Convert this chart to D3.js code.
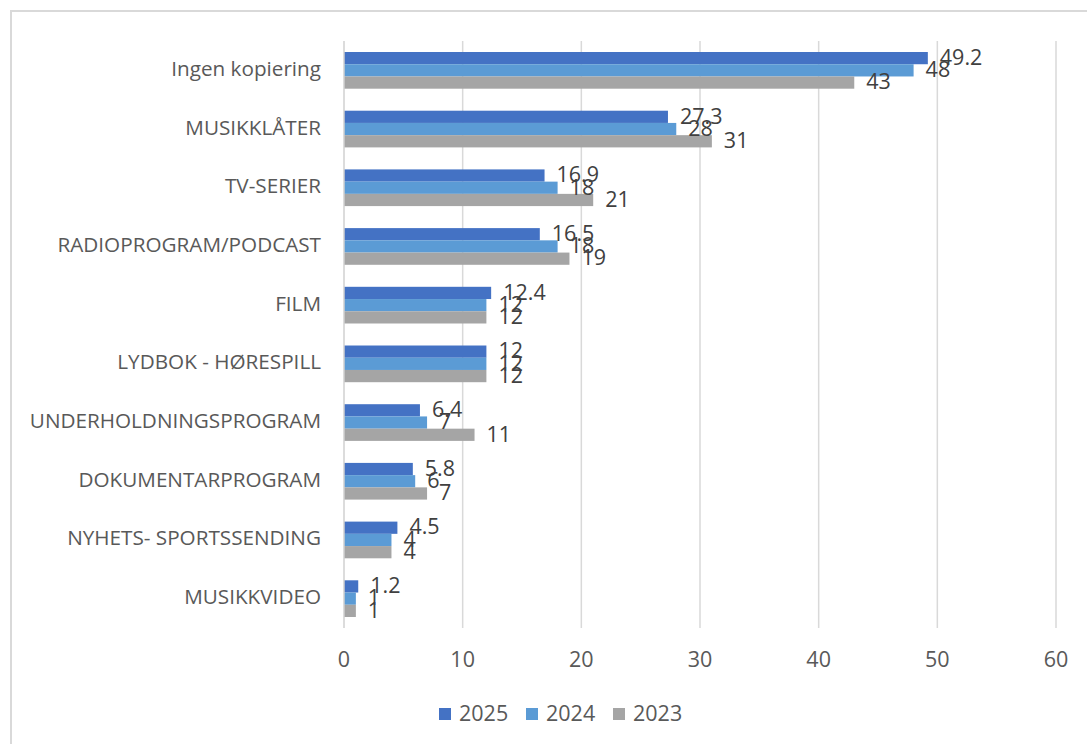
<!DOCTYPE html>
<html>
<head>
<meta charset="utf-8">
<script src="https://cdn.jsdelivr.net/npm/d3@7"></script>
<style>
  body { margin: 0; background: #fff; }
  svg text { font-family: "Open Sans", "Noto Sans", sans-serif; }
</style>
</head>
<body>
<div id="chart"></div>
<script>
// categories, top to bottom
const categories = ["Ingen kopiering", "MUSIKKLÅTER", "TV-SERIER", "RADIOPROGRAM/PODCAST", "FILM",
    "LYDBOK - HØRESPILL", "UNDERHOLDNINGSPROGRAM", "DOKUMENTARPROGRAM", "NYHETS- SPORTSSENDING", "MUSIKKVIDEO"];
const seriesNames = ["2025", "2024", "2023"];
const values2025 = [49.2, 27.3, 16.9, 16.5, 12.4, 12, 6.4, 5.8, 4.5, 1.2];
const values2024 = [48, 28, 18, 18, 12, 12, 7, 6, 4, 1];
const values2023 = [43, 31, 21, 19, 12, 12, 11, 7, 4, 1];
const xTicks = [0, 10, 20, 30, 40, 50, 60];
const colors = ["#4472C4", "#5B9BD5", "#A5A5A5"];

const seriesValues = [values2025, values2024, values2023];

let width = 1087, height = 744,
    margin = {top: 41, left: 344, right: 31, bottom: 116};

let svg = d3.select("#chart").append("svg")
    .attr("width", width)
    .attr("height", height);

// chart border
svg.append("rect")
    .attr("x", 11).attr("y", 11)
    .attr("width", 1100).attr("height", 760)
    .attr("fill", "none")
    .attr("stroke", "#d9d9d9")
    .attr("stroke-width", 2);

let x = d3.scaleLinear().domain([0, 60]).range([margin.left, width - margin.right]);
let y = d3.scaleBand().domain(categories)
    .range([margin.top, height - margin.bottom])
    .paddingInner(0.375).paddingOuter(0.1875);
let ySub = d3.scaleBand().domain(seriesNames).range([0, y.bandwidth()]);

// gridlines
svg.append("g").selectAll("line")
    .data(xTicks.slice(1))
    .enter().append("line")
    .attr("x1", d => x(d)).attr("x2", d => x(d))
    .attr("y1", margin.top).attr("y2", height - margin.bottom)
    .attr("stroke", "#d9d9d9")
    .attr("stroke-width", 1.5);

// bars
seriesNames.forEach((s, i) => {
    svg.append("g").selectAll("rect")
        .data(categories)
        .enter().append("rect")
        .attr("x", x(0))
        .attr("y", d => y(d) + ySub(s))
        .attr("width", (d, j) => x(seriesValues[i][j]) - x(0))
        .attr("height", ySub.bandwidth())
        .attr("fill", colors[i]);
});

// category axis line
svg.append("line")
    .attr("x1", x(0)).attr("x2", x(0))
    .attr("y1", margin.top).attr("y2", height - margin.bottom)
    .attr("stroke", "#d0d0d0")
    .attr("stroke-width", 1.5);

// value labels
seriesNames.forEach((s, i) => {
    svg.append("g").selectAll("text")
        .data(categories)
        .enter().append("text")
        .attr("x", (d, j) => x(seriesValues[i][j]) + 12)
        .attr("y", d => y(d) + ySub(s) + ySub.bandwidth() / 2 + 1)
        .attr("dominant-baseline", "middle")
        .attr("font-size", 21.5)
        .attr("fill", "#404040")
        .text((d, j) => seriesValues[i][j]);
});

// category labels
svg.append("g").selectAll("text")
    .data(categories)
    .enter().append("text")
    .attr("x", x(0) - 23)
    .attr("y", d => y(d) + y.bandwidth() / 2)
    .attr("text-anchor", "end")
    .attr("dominant-baseline", "middle")
    .attr("font-size", 20.7)
    .attr("fill", "#595959")
    .text(d => d);

// x tick labels
svg.append("g").selectAll("text")
    .data(xTicks)
    .enter().append("text")
    .attr("x", d => x(d))
    .attr("y", 661)
    .attr("text-anchor", "middle")
    .attr("dominant-baseline", "middle")
    .attr("font-size", 21.5)
    .attr("fill", "#595959")
    .text(d => d);

// legend
let legend = svg.append("g").selectAll("g")
    .data(seriesNames)
    .enter().append("g")
    .attr("transform", (d, i) => "translate(" + (439 + i * 87) + ",708)");
legend.append("rect")
    .attr("width", 12).attr("height", 12)
    .attr("fill", (d, i) => colors[i]);
legend.append("text")
    .attr("x", 20).attr("y", 7)
    .attr("dominant-baseline", "middle")
    .attr("font-size", 21.5)
    .attr("fill", "#595959")
    .text(d => d);
</script>
</body>
</html>
